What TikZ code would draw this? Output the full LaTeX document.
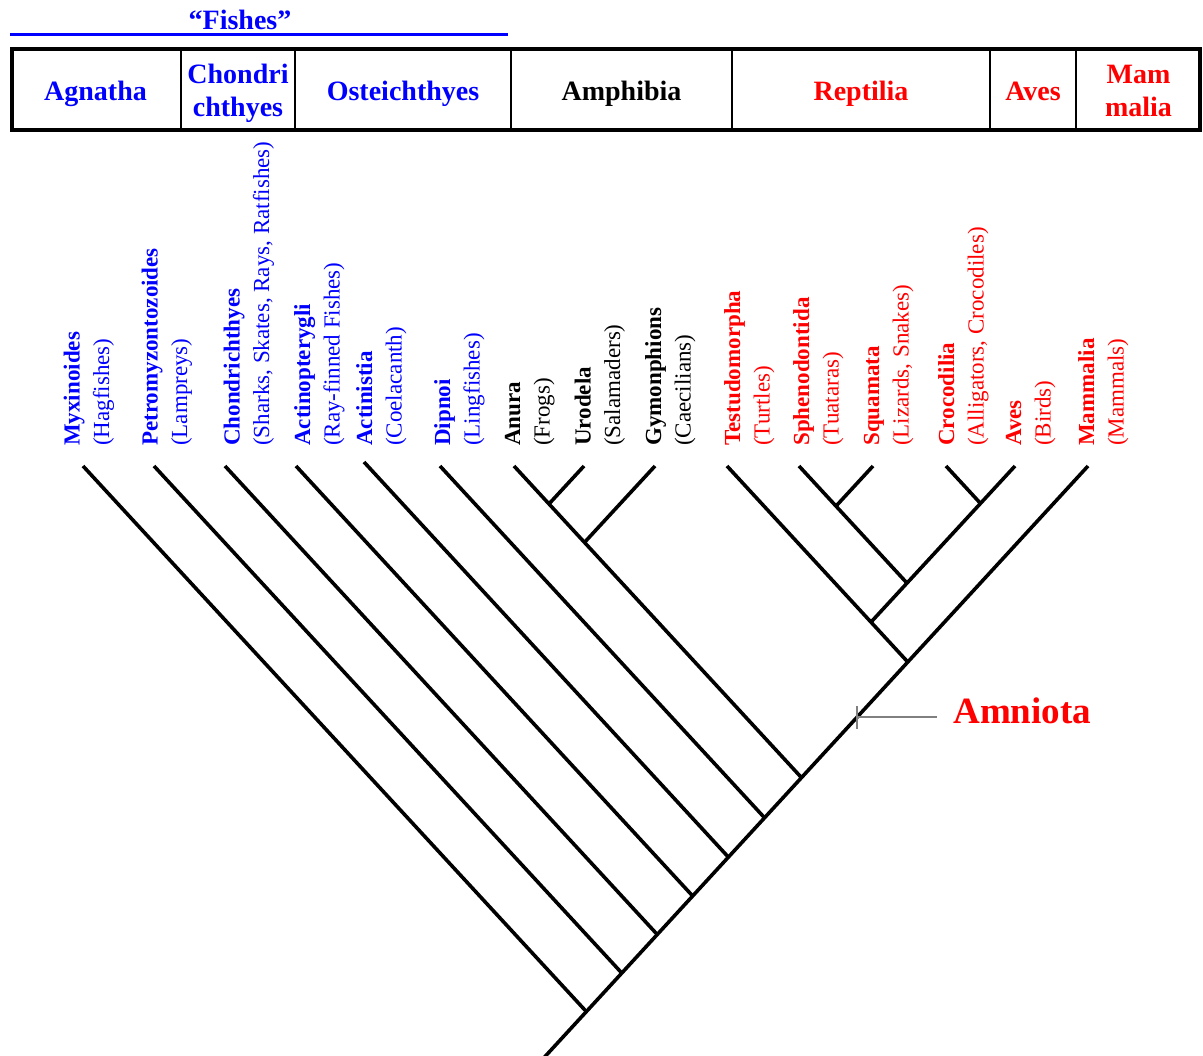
\documentclass[tikz,border=0pt]{standalone}
\usepackage{fontspec}
\setmainfont{Liberation Serif}
\definecolor{fblue}{RGB}{0,0,255}
\definecolor{rred}{RGB}{255,0,0}
\definecolor{tickgray}{RGB}{128,128,128}
\tikzset{
  br/.style={line width=2.7pt, black},
  cellhead/.style={font=\fontsize{21}{25}\selectfont\bfseries, inner sep=0pt, anchor=base},
  tname/.style={rotate=90, anchor=base west, inner sep=0pt, font=\fontsize{17.25}{20}\selectfont\bfseries},
  tcommon/.style={rotate=90, anchor=base west, inner sep=0pt, font=\fontsize{17.25}{20}\selectfont},
  outerbox/.style={line width=3.6pt, black},
  divider/.style={line width=1.8pt, black},
  tickline/.style={line width=1.5pt, tickgray},
}
\begin{document}
\begin{tikzpicture}[x=0.75pt, y=-0.75pt]
\useasboundingbox (0,0) rectangle (1203,1056);
% header
\node[cellhead, text=fblue] (fishes) at (240,30) {“Fishes”};
\coordinate (fl) at (10,34.5);
\coordinate (fr) at (508,34.5);
\draw[line width=2.6pt, fblue] (fl) -- (fr);
% table
\draw[outerbox] (12,49) rectangle (1200,130);
\foreach \xx in {181,295,511,732,990,1076}{\draw[divider] (\xx,49) -- (\xx,130);}
\node[cellhead, text=fblue] (cAgn) at (95.5,100) {Agnatha};
\node[cellhead, text=fblue] (cCho1) at (238,83.5) {Chondri};
\node[cellhead, text=fblue] (cCho2) at (238,116.5) {chthyes};
\node[cellhead, text=fblue] (cOst) at (403,100) {Osteichthyes};
\node[cellhead, text=black] (cAmp) at (621.5,100) {Amphibia};
\node[cellhead, text=rred] (cRep) at (861,100) {Reptilia};
\node[cellhead, text=rred] (cAve) at (1033,100) {Aves};
\node[cellhead, text=rred] (cMam1) at (1138.5,83.5) {Mam};
\node[cellhead, text=rred] (cMam2) at (1138.5,116.5) {malia};
% taxon labels
\foreach \nm/\bx/\bold/\com/\col in {
  myx/79.5/{Myxinoides}/{(Hagfishes)}/fblue,
  pet/157.5/{Petromyzontozoides}/{(Lampreys)}/fblue,
  cho/239.5/{Chondrichthyes}/{(Sharks, Skates, Rays, Ratfishes)}/fblue,
  act/310/{Actinopterygli}/{(Ray-finned Fishes)}/fblue,
  acs/372/{Actinistia}/{(Coelacanth)}/fblue,
  dip/450/{Dipnoi}/{(Lingfishes)}/fblue,
  anu/520/{Anura}/{(Frogs)}/black,
  uro/590.5/{Urodela}/{(Salamaders)}/black,
  gym/661/{Gymonphions}/{(Caecilians)}/black,
  tes/740/{Testudomorpha}/{(Turtles)}/rred,
  sph/809/{Sphenodontida}/{(Tuataras)}/rred,
  squ/879/{Squamata}/{(Lizards, Snakes)}/rred,
  cro/954/{Crocodilia}/{(Alligators, Crocodiles)}/rred,
  ave/1021/{Aves}/{(Birds)}/rred,
  mam/1094/{Mammalia}/{(Mammals)}/rred}{
  \node[tname, text=\col] (n\nm) at (\bx,446) {\bold};
  \node[tcommon, text=\col] (k\nm) at (\bx+29.5,446) {\com};
}
% leaf tips
\coordinate (Lmyx) at (83,466);
\coordinate (Lpet) at (154,466);
\coordinate (Lcho) at (225,466);
\coordinate (Lact) at (296,466);
\coordinate (Lacs) at (364,462);
\coordinate (Ldip) at (440,466);
\coordinate (Lanu) at (514,466);
\coordinate (Luro) at (584,466);
\coordinate (Lgym) at (655,466);
\coordinate (Ltes) at (727,466);
\coordinate (Lsph) at (799,466);
\coordinate (Lsqu) at (873,466);
\coordinate (Lcro) at (946,466);
\coordinate (Lave) at (1015,466);
\coordinate (Lmam) at (1088,466);
% junctions
\coordinate (j1) at (585.5,1010.7);
\coordinate (j2) at (621,972.2);
\coordinate (j3) at (656.5,933.7);
\coordinate (j4) at (692,895.3);
\coordinate (j5) at (727.8,856.5);
\coordinate (j6) at (764,817.2);
\coordinate (j7) at (801,777.1);
\coordinate (jAm) at (907.5,661.7);
\coordinate (root) at (543.7,1058);
\coordinate (a1) at (549,503.9);
\coordinate (a2) at (584.5,542.4);
\coordinate (r1) at (836,506.1);
\coordinate (r2) at (980.5,503.4);
\coordinate (r3) at (907,583.1);
\coordinate (r4) at (871,622.1);
% branches
\draw[br] (Lmam) -- (root);
\draw[br] (Lmyx) -- (j1);
\draw[br] (Lpet) -- (j2);
\draw[br] (Lcho) -- (j3);
\draw[br] (Lact) -- (j4);
\draw[br] (Lacs) -- (j5);
\draw[br] (Ldip) -- (j6);
\draw[br] (Lanu) -- (j7);
\draw[br] (Luro) -- (a1);
\draw[br] (Lgym) -- (a2);
\draw[br] (Ltes) -- (jAm);
\draw[br] (Lave) -- (r4);
\draw[br] (Lcro) -- (r2);
\draw[br] (Lsph) -- (r3);
\draw[br] (Lsqu) -- (r1);
% Amniota
\coordinate (amt) at (856.5,717);
\coordinate (aml) at (937,717);
\draw[tickline] ([yshift=8.25pt]amt) -- ([yshift=-9pt]amt);
\draw[tickline] (aml) -- (amt);
\node[inner sep=0pt, anchor=base west, text=rred, font=\fontsize{27.8}{32}\selectfont\bfseries] (amn) at (953,723) {Amniota};
\end{tikzpicture}
\end{document}
